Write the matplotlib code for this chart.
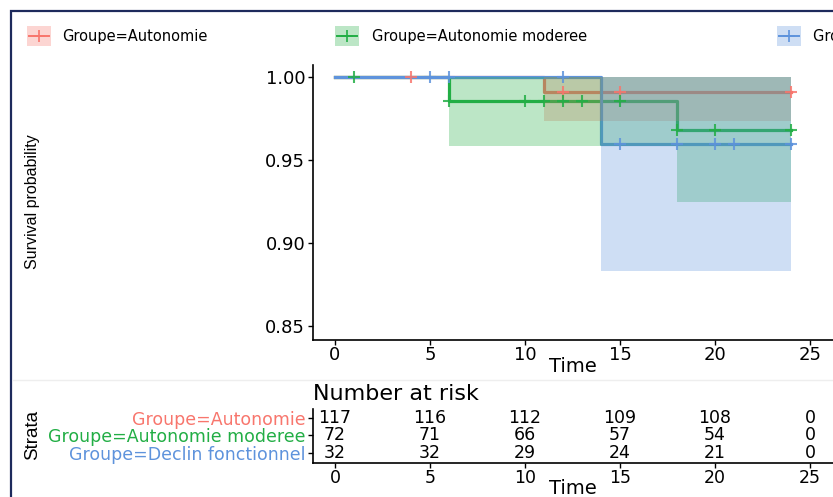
import matplotlib
matplotlib.use("Agg")
import matplotlib.pyplot as plt
from matplotlib.patches import Rectangle
from matplotlib.lines import Line2D

W, H = 833, 497

# Kaplan-Meier estimates
groups = ["Groupe=Autonomie", "Groupe=Autonomie moderee", "Groupe=Declin fonctionnel"]
colors = ["#F8766D", "#22AE45", "#5E93DC"]

times_auto = [0, 11, 24]
surv_auto = [1.0, 0.991, 0.991]
lower_auto = [1.0, 0.9735, 0.9735]
upper_auto = [1.0, 1.0, 1.0]
cens_auto = [4, 12, 15, 24]

times_mod = [0, 6, 18, 24]
surv_mod = [1.0, 0.9855, 0.968, 0.968]
lower_mod = [1.0, 0.9584, 0.9247, 0.9247]
upper_mod = [1.0, 1.0, 1.0, 1.0]
cens_mod = [1, 6, 10, 11, 12, 13, 15, 18, 20, 24]

times_dec = [0, 14, 24]
surv_dec = [1.0, 0.9596, 0.9596]
lower_dec = [1.0, 0.883, 0.883]
upper_dec = [1.0, 1.0, 1.0]
cens_dec = [5, 6, 12, 15, 18, 20, 21, 24]

# number at risk table
risk_times = [0, 5, 10, 15, 20, 25]
risk_auto = [117, 116, 112, 109, 108, 0]
risk_mod = [72, 71, 66, 57, 54, 0]
risk_dec = [32, 32, 29, 24, 21, 0]

xticks = [0, 5, 10, 15, 20, 25]
yticks = [0.85, 0.90, 0.95, 1.00]


def fx(px):
    return px / W


def fy(py):
    return 1 - py / H


def surv_at(t, times, surv):
    val = surv[0]
    for tt, s in zip(times, surv):
        if t >= tt:
            val = s
    return val


fig = plt.figure(figsize=(W / 100, H / 100), dpi=100)
fig.patch.set_facecolor("white")

xlim = (-22 / 19, (W - 335) / 19)

# ---- main survival plot
ax = fig.add_axes([fx(313), fy(340), 1 - fx(313), (340 - 65) / H])
series = [
    (times_auto, surv_auto, lower_auto, upper_auto, cens_auto),
    (times_mod, surv_mod, lower_mod, upper_mod, cens_mod),
    (times_dec, surv_dec, lower_dec, upper_dec, cens_dec),
]
# lines first, then the ribbons on top (as survminer does), censor marks last
for (t, s, lo, up, cens), c in zip(series, colors):
    ax.step(t, s, where="post", color=c, lw=2.3, zorder=2)
for (t, s, lo, up, cens), c in zip(series, colors):
    ax.fill_between(t, lo, up, step="post", color=c, alpha=0.3, lw=0, zorder=3)
for (t, s, lo, up, cens), c in zip(series, colors):
    ax.plot(cens, [surv_at(x, t, s) for x in cens], ls="none", marker="+",
            ms=8, mew=1.5, color=c, alpha=0.85, zorder=4)

ax.set_xlim(*xlim)
ax.set_ylim(0.8416, 1.0072)
ax.set_xticks(xticks)
ax.set_yticks(yticks)
ax.set_yticklabels([f"{v:.2f}" for v in yticks])
for sp in ["top", "right"]:
    ax.spines[sp].set_visible(False)
for sp in ["left", "bottom"]:
    ax.spines[sp].set_linewidth(1.2)
ax.tick_params(length=3.6, width=1.0, labelsize=13, pad=2)
ax.tick_params(axis="x", pad=0.5)
ax.set_facecolor("none")

fig.text(fx(573), fy(367), "Time", ha="center", va="center", fontsize=14)
fig.text(fx(33), fy(202), "Survival probability", rotation=90, ha="center",
         va="center", fontsize=11.5, family="Liberation Sans")

# ---- legend across the top
leg_keys = [27, 335, 777]
leg_text = [62, 372, 813]
for name, c, kx, tx in zip(groups, colors, leg_keys, leg_text):
    fig.add_artist(Rectangle((fx(kx), fy(46)), fx(24), 20 / H, transform=fig.transFigure,
                             facecolor=c, alpha=0.3, lw=0))
    fig.add_artist(Line2D([fx(kx + 2), fx(kx + 22)], [fy(36), fy(36)], transform=fig.transFigure,
                          color=c, lw=1.4))
    fig.add_artist(Line2D([fx(kx + 12)], [fy(36)], transform=fig.transFigure, color=c,
                          marker="+", ms=8, mew=1.2, ls="none"))
    fig.text(fx(tx), fy(36), name, ha="left", va="center", fontsize=10.5)

# ---- risk table
rax = fig.add_axes([fx(313), fy(463), 1 - fx(313), 54 / H])
rows = [risk_auto, risk_mod, risk_dec]
row_y = [3, 2, 1]
for vals, yy in zip(rows, row_y):
    for t, v in zip(risk_times, vals):
        rax.text(t, yy, str(v), ha="center", va="center", fontsize=12.5)
rax.set_xlim(*xlim)
rax.set_ylim(0.43, 3.51)
rax.set_xticks(xticks)
rax.set_yticks(row_y)
rax.set_yticklabels(groups)
for lab, c in zip(rax.get_yticklabels(), colors):
    lab.set_color(c)
for sp in ["top", "right"]:
    rax.spines[sp].set_visible(False)
for sp in ["left", "bottom"]:
    rax.spines[sp].set_linewidth(1.2)
rax.tick_params(length=3.6, width=1.0, labelsize=12.5, pad=2)
rax.tick_params(axis="x", pad=0.5)
rax.set_facecolor("none")

fig.text(fx(313), fy(394), "Number at risk", ha="left", va="center", fontsize=16)
fig.text(fx(573), fy(489), "Time", ha="center", va="center", fontsize=14)
fig.text(fx(33), fy(435), "Strata", rotation=90, ha="center", va="center",
         fontsize=13.5, family="Liberation Sans")

# faint separator and screenshot frame
fig.add_artist(Line2D([fx(13), 1], [fy(380), fy(380)], transform=fig.transFigure,
                      color="#eeeeee", lw=1))
fig.add_artist(Rectangle((fx(11), -0.1), 1.2, fy(11) + 0.1, transform=fig.transFigure,
                         facecolor="none", edgecolor="#1d2a5c", lw=1.6))

fig.savefig("out.png", dpi=100)
